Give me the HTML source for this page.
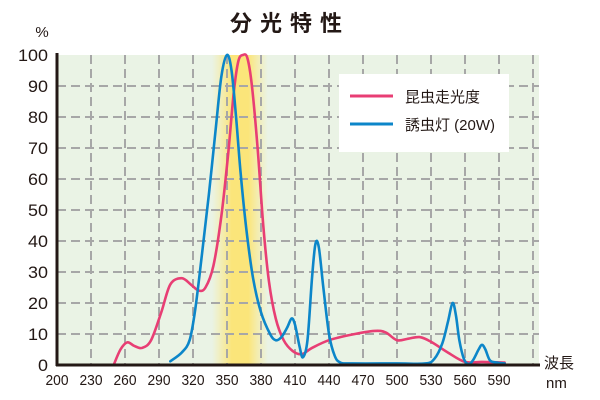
<!DOCTYPE html>
<html><head><meta charset="utf-8"><style>
html,body{margin:0;padding:0;background:#fff}
svg{display:block}
text{font-family:"Liberation Sans","Noto Sans CJK JP",sans-serif;fill:#231815}
</style></head><body>
<svg id="s" width="600" height="400" viewBox="0 0 600 400">
<defs>
<linearGradient id="yb" x1="0" x2="1" y1="0" y2="0">
<stop offset="0" stop-color="#fbe98a" stop-opacity="0"/>
<stop offset="0.35" stop-color="#fbe57a"/>
<stop offset="0.65" stop-color="#fbe57a"/>
<stop offset="1" stop-color="#fbe98a" stop-opacity="0"/>
</linearGradient>
</defs>
<rect x="57" y="55" width="482" height="310" fill="#eaf3e5"/>
<rect x="212" y="55" width="56" height="310" fill="url(#yb)"/>
<g id="grid" stroke="#a7a7a7" stroke-width="2" stroke-dasharray="9,5"></g>
<g id="curves" fill="none" stroke-width="2.6" stroke-linejoin="round" stroke-linecap="round"></g>
<rect x="339" y="74" width="170" height="78" fill="#fff"/>
<line x1="350" y1="96" x2="393" y2="96" stroke="#e83e74" stroke-width="3"/>
<line x1="350" y1="124" x2="393" y2="124" stroke="#0c86c9" stroke-width="3"/>
<text x="405" y="102" font-size="15">昆虫走光度</text>
<text x="405" y="130" font-size="15">誘虫灯 (20W)</text>
<line x1="57" y1="53" x2="57" y2="366" stroke="#231815" stroke-width="3"/>
<line x1="56" y1="365" x2="540" y2="365" stroke="#231815" stroke-width="3"/>
<text x="290" y="31" font-size="22" font-weight="bold" text-anchor="middle" letter-spacing="8">分光特性</text>
<text x="42" y="37" font-size="15" text-anchor="middle">%</text>
<g id="yl" font-size="17" text-anchor="end"></g>
<g id="xl" font-size="15" text-anchor="middle"></g>
<text x="544" y="368" font-size="15">波長</text>
<text x="546" y="388" font-size="15">nm</text>
</svg>
<script>
var NS="http://www.w3.org/2000/svg";
function X(n){return 57+(n-200)*34/30}
function Y(v){return 365-3.1*v}
var g=document.getElementById('grid'),yl=document.getElementById('yl'),xl=document.getElementById('xl');
function el(p,t,a,txt){var e=document.createElementNS(NS,t);for(var k in a)e.setAttribute(k,a[k]);if(txt)e.textContent=txt;p.appendChild(e);return e}
for(var v=10;v<=100;v+=10){if(v<100)el(g,'line',{x1:57,x2:539,y1:Y(v),y2:Y(v)});}
for(var v=0;v<=100;v+=10)el(yl,'text',{x:48,y:Y(v)+6,textLength:v==100?30:(v?20:10),lengthAdjust:'spacingAndGlyphs'},String(v));
for(var n=230;n<=620;n+=30){if(X(n)<539)el(g,'line',{x1:X(n),x2:X(n),y1:55,y2:365});}
for(var n=200;n<=590;n+=30)el(xl,'text',{x:X(n),y:385,textLength:23,lengthAdjust:'spacingAndGlyphs'},String(n));
function path(pts){
 var p=pts.map(function(a){return[X(a[0]),Y(a[1])]});
 var d="M"+p[0][0]+","+p[0][1];
 for(var i=0;i<p.length-1;i++){
  var p0=p[i-1]||p[i],p1=p[i],p2=p[i+1],p3=p[i+2]||p2;
  var c1=[p1[0]+(p2[0]-p0[0])/6,p1[1]+(p2[1]-p0[1])/6],c2=[p2[0]-(p3[0]-p1[0])/6,p2[1]-(p3[1]-p1[1])/6];
  d+=" C"+c1+" "+c2+" "+p2;
 }
 return d;
}
var pink=[[250,0],[256,5],[262,7.3],[268,6.2],[275,5.5],[283,8],[292,17],[300,26],[310,28],[318,26],[325,24],[331,25],[338,32],[345,48],[351,68],[356,88],[360,98],[364,100],[368,99],[372,90],[377,70],[382,45],[387,27],[393,15],[400,8],[408,4.5],[416,3.5],[425,5.5],[440,8],[460,9.8],[480,11],[490,10.5],[500,8],[510,8.5],[520,9],[530,7.5],[545,4],[560,1],[575,1],[595,0.8]];
var blue=[[300,1.2],[310,4],[317,8],[322,18],[328,36],[334,55],[340,76],[345,93],[350,100],[354,95],[358,80],[362,62],[367,44],[373,28],[380,17],[388,10],[393,8],[398,9],[403,12],[407,15],[410,13],[414,6],[417,2.5],[421,8],[425,28],[428,39],[431,38],[435,25],[440,10],[445,3],[450,0.8],[460,0.5],[500,0.5],[525,0.5],[533,2],[540,7],[545,14],[549,20],[552,16],[555,8],[559,2],[563,0.3],[567,1.5],[572,5],[575,6.5],[578,5],[582,1.5],[588,0.8],[595,0.5]];
var c=document.getElementById('curves');
el(c,'path',{d:path(pink),stroke:'#e83e74'});
el(c,'path',{d:path(blue),stroke:'#0c86c9'});
</script>
</body></html>
